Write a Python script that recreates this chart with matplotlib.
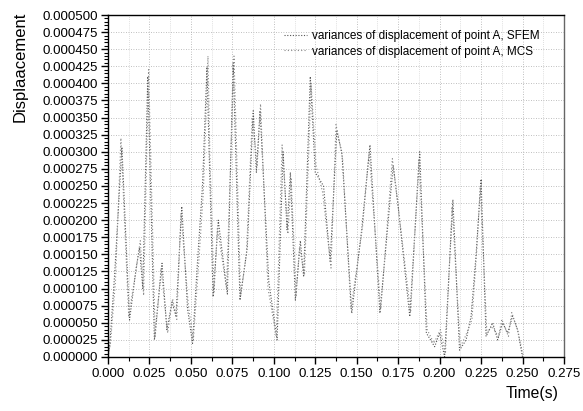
import matplotlib
matplotlib.use('Agg')
import matplotlib.pyplot as plt
from matplotlib.ticker import MultipleLocator, FuncFormatter

plt.rcParams['font.family'] = ['Liberation Sans', 'DejaVu Sans']

# variance of displacement, SFEM
t_sfem = [0.000, 0.001, 0.004, 0.0084, 0.013, 0.017, 0.019, 0.021, 0.024, 0.028,
          0.0326, 0.0355, 0.0386, 0.041, 0.0445, 0.048, 0.051, 0.054, 0.057, 0.0597,
          0.061, 0.0634, 0.0665, 0.072, 0.0755, 0.0796, 0.084, 0.0876, 0.0895, 0.0917,
          0.097, 0.102, 0.1056, 0.108, 0.110, 0.113, 0.116, 0.118, 0.122, 0.125,
          0.130, 0.134, 0.138, 0.141, 0.147, 0.153, 0.158, 0.164, 0.172, 0.175,
          0.182, 0.188, 0.192, 0.197, 0.200, 0.203, 0.208, 0.212, 0.216, 0.219,
          0.222, 0.225, 0.228, 0.232, 0.235, 0.238, 0.241, 0.244, 0.247, 0.250]
v_sfem = [0.0, 0.000015, 0.00012, 0.000307, 0.000054, 0.00013, 0.00016, 0.0001, 0.00041, 0.000025,
          0.000137, 0.00004, 0.00008, 0.00006, 0.00022, 0.00007, 0.00002, 0.00014, 0.00025, 0.000424,
          0.0003, 0.000088, 0.0002, 0.000092, 0.00043, 0.000083, 0.00016, 0.00036, 0.00027, 0.00036,
          0.00011, 0.000025, 0.0003, 0.000186, 0.00027, 0.000083, 0.00017, 0.000117, 0.00041, 0.00027,
          0.00025, 0.00014, 0.00033, 0.0003, 0.000064, 0.000186, 0.00031, 0.000064, 0.00028, 0.00022,
          0.000059, 0.0003, 0.000035, 0.000015, 0.000035, 0.0, 0.00023, 0.00001, 0.000025, 0.00006,
          0.00015, 0.00026, 0.00003, 0.00005, 0.000025, 0.00005, 0.000035, 0.00006, 0.00004, 0.0]

# MCS curve, almost on top of the SFEM one
t_mcs = [0.000, 0.0015, 0.0045, 0.0078, 0.0125, 0.0165, 0.0195, 0.0215, 0.0245, 0.0285,
         0.032, 0.036, 0.039, 0.0415, 0.044, 0.0485, 0.0515, 0.0545, 0.0575, 0.0603,
         0.0615, 0.064, 0.066, 0.0715, 0.076, 0.080, 0.0835, 0.087, 0.090, 0.092,
         0.0965, 0.1015, 0.105, 0.1085, 0.1105, 0.1135, 0.1155, 0.1185, 0.1225, 0.1255,
         0.1295, 0.1345, 0.1375, 0.1415, 0.1465, 0.1535, 0.1575, 0.1645, 0.1715, 0.1755,
         0.1825, 0.1875, 0.1925, 0.1965, 0.2005, 0.2035, 0.2075, 0.2125, 0.2155, 0.2195,
         0.2225, 0.2245, 0.2285, 0.2315, 0.2355, 0.2375, 0.2415, 0.2435, 0.2475, 0.2505]
v_mcs = [0.0, 0.00002, 0.00011, 0.00032, 0.00006, 0.00012, 0.00017, 0.00009, 0.00042, 0.00003,
         0.00013, 0.000035, 0.000085, 0.000055, 0.00021, 0.000075, 0.000025, 0.00013, 0.00024, 0.00044,
         0.00029, 0.000095, 0.00019, 0.0001, 0.00044, 0.00009, 0.00015, 0.00035, 0.00028, 0.00037,
         0.0001, 0.00003, 0.00031, 0.00018, 0.00026, 0.00009, 0.00016, 0.00012, 0.0004, 0.00028,
         0.00024, 0.00013, 0.00034, 0.00029, 0.00007, 0.00019, 0.0003, 0.00007, 0.00029, 0.00021,
         0.000065, 0.00029, 0.00004, 0.00002, 0.00004, 0.000005, 0.00022, 0.000015, 0.00003, 0.000055,
         0.00016, 0.00025, 0.000035, 0.000045, 0.00003, 0.000055, 0.00003, 0.000065, 0.000035, 0.0]

x_ticks = [0.0, 0.025, 0.05, 0.075, 0.1, 0.125, 0.15, 0.175, 0.2, 0.225, 0.25, 0.275]

fig = plt.figure(figsize=(5.83, 4.11), dpi=100)
ax = fig.add_axes([0.1852, 0.1314, 0.7822, 0.8321])

ax.plot(t_sfem, v_sfem, color='#555555', ls=(0, (1, 1.5)), lw=0.8,
        label='variances of displacement of point A, SFEM')
ax.plot(t_mcs, v_mcs, color='#888888', ls=(0, (1, 2)), lw=0.8,
        label='variances of displacement of point A, MCS')

ax.set_xlim(0, 0.275)
ax.set_ylim(0, 0.0005)
ax.set_xticks(x_ticks)
ax.xaxis.set_minor_locator(MultipleLocator(0.0125))
ax.yaxis.set_major_locator(MultipleLocator(0.000025))
ax.yaxis.set_minor_locator(MultipleLocator(0.000005))
ax.xaxis.set_major_formatter(FuncFormatter(lambda v, p: f'{v:.3f}'))
ax.yaxis.set_major_formatter(FuncFormatter(lambda v, p: f'{v:.6f}'))
ax.tick_params(which='major', direction='out', length=5, width=1, labelsize=9.6, pad=2)
ax.tick_params(which='minor', direction='out', length=3, width=0.8)
ax.tick_params(axis='x', pad=3)

ax.grid(True, which='major', color='#aaaaaa', ls=(0, (1, 2)), lw=0.6)
ax.grid(True, which='minor', axis='x', color='#c0c0c0', ls=(0, (1, 2)), lw=0.5)
for s in ax.spines.values():
    s.set_linewidth(1.0)
ax.spines['right'].set_color('#666666')

ax.legend(loc='upper left', bbox_to_anchor=(0.385, 0.956), frameon=False,
          fontsize=8.5, handlelength=2.0, handletextpad=0.4, labelspacing=0.3,
          borderpad=0, borderaxespad=0)

fig.text(20/583, 1-67/411, 'Displaacement', rotation=90, fontsize=12,
         ha='center', va='center')
fig.text(558/583, 1-393/411, 'Time(s)', fontsize=11.3, ha='right', va='center')

fig.savefig('out.png', dpi=100)
